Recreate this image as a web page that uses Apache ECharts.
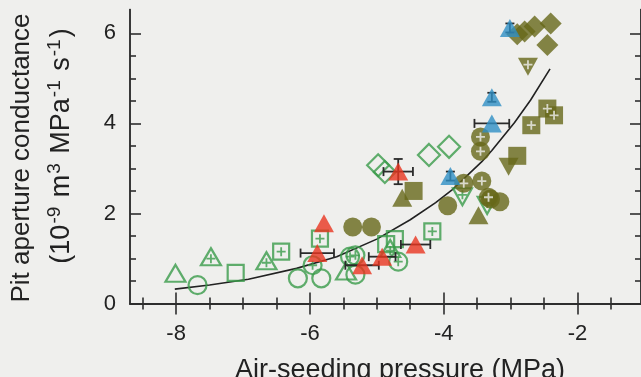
<!DOCTYPE html>
<html>
<head>
<meta charset="utf-8">
<script src="https://cdn.jsdelivr.net/npm/echarts@6/dist/echarts.min.js"></script>
<style>
  html, body { margin: 0; padding: 0; background: #efefed; }
  #main { width: 641px; height: 377px; }
</style>
</head>
<body>
<div id="main"></div>
<script>
var chart = echarts.init(document.getElementById("main"));

// axis ticks
var x_major = [-8, -6, -4, -2];
var x_minor = [-8.5, -7.5, -7, -6.5, -5.5, -5, -4.5, -3.5, -3, -2.5, -1.5];
var y_major = [0, 2, 4, 6];
var y_minor = [0.5, 1, 1.5, 2.5, 3, 3.5, 4.5, 5, 5.5];

// green open markers
var g_triangle = [[-8.01, 0.67], [-5.46, 0.72]];
var g_circle = [[-7.68, 0.41], [-6.18, 0.56], [-5.83, 0.56], [-5.32, 0.64]];
var g_square = [[-7.11, 0.68], [-4.73, 1.43], [-4.86, 1.32]];
var g_diamond = [[-4.98, 3.07], [-4.88, 2.92], [-4.22, 3.30], [-3.92, 3.48]];
var g_tri_plus = [[-7.48, 1.04], [-6.65, 0.95], [-4.8, 1.22]];
var g_sq_plus = [[-6.43, 1.15], [-5.85, 1.44], [-4.17, 1.60]];
var g_circ_plus = [[-5.96, 0.85], [-5.4, 1.04], [-5.32, 1.07], [-4.68, 0.93]];
var g_inv_tri = [[-3.72, 2.37], [-3.35, 2.18]];

// olive filled markers
var o_circle = [[-5.36, 1.70], [-5.08, 1.70], [-3.94, 2.17], [-3.16, 2.26], [-3.3, 2.32]];
var o_circ_plus = [[-3.45, 3.70], [-3.45, 3.38], [-3.70, 2.67], [-3.43, 2.72], [-3.33, 2.36]];
var o_diamond = [[-2.9, 5.98], [-2.79, 6.04], [-2.64, 6.15], [-2.40, 6.22], [-2.45, 5.74]];
var o_square = [[-4.45, 2.50], [-2.90, 3.28]];
var o_triangle = [[-4.62, 2.35], [-3.48, 1.96]];
var o_inv_tri = [[-3.03, 3.04]];
var o_inv_tri_plus = [[-2.74, 5.26]];
var o_sq_plus = [[-2.69, 3.96], [-2.45, 4.33], [-2.35, 4.18]];

// triangles with error bars: [x, y, x error, y error]
var red_tri = [[-5.79, 1.78, 0, 0], [-5.89, 1.12, 0.25, 0], [-5.22, 0.85, 0.25, 0],
               [-4.92, 1.04, 0.2, 0], [-4.42, 1.31, 0.22, 0], [-4.68, 2.93, 0.22, 0.28]];
var blue_tri = [[-3.90, 2.83, 0, 0.1], [-3.28, 4.00, 0.26, 0], [-3.28, 4.58, 0, 0.1], [-3.01, 6.12, 0, 0.1]];

// fitted curve
var fit_curve = [[-8.02, 0.32], [-7.5, 0.41], [-6.92, 0.54], [-6.2, 0.78], [-5.6, 1.04], [-5.0, 1.43],
                 [-4.5, 1.86], [-4.12, 2.24], [-3.87, 2.53], [-3.43, 3.15], [-3.28, 3.40],
                 [-2.94, 4.02], [-2.7, 4.52], [-2.41, 5.21]];

var green = '#3a9b4a';
var olive = '#666819';
var red = '#e8351f';
var blue = '#2e8ec4';
var bg = '#efefed';
var axis_color = '#2e2e2e';
var text_color = '#222222';
var font = 'Liberation Sans';
var plus_path = 'path://M4,0h2v4h4v2h-4v4h-2v-4h-4v-2h4z';
var inv_tri_path = 'path://M0,0L10,0L5,9Z';

function open_series(data, symbol, size) {
    return {
        type: 'scatter', data: data, symbol: symbol, symbolSize: size, z: 2,
        itemStyle: { color: 'rgba(0,0,0,0)', borderColor: green, borderWidth: 2.2 }
    };
}
function filled_series(data, symbol, size, color, z) {
    return {
        type: 'scatter', data: data, symbol: symbol, symbolSize: size, z: z || 3,
        itemStyle: { color: color }
    };
}
function plus_series(data, color, offset, z) {
    return {
        type: 'scatter', data: data, symbol: plus_path, symbolSize: 9, z: z,
        symbolOffset: offset || [0, 0],
        itemStyle: { color: color }
    };
}

function tick_axis(pos, min, max, ticks, len, label) {
    return {
        type: 'value', position: pos, min: min, max: max,
        axisLine: { show: true, lineStyle: { color: axis_color, width: 1.5 } },
        axisTick: { show: true, inside: true, length: len, customValues: ticks,
                    lineStyle: { color: axis_color, width: 1.6 } },
        axisLabel: label ? label : { show: false },
        splitLine: { show: false }
    };
}

var x_min = -8.69, x_max = -1.05, y_min = 0, y_max = 6.53;

var option = {
    backgroundColor: bg,
    animation: false,
    grid: { left: 130, top: 9.5, width: 518, height: 294 },
    xAxis: [
        tick_axis('bottom', x_min, x_max, x_major, 11, {
            show: true, customValues: x_major, fontSize: 22, fontFamily: font, color: text_color, margin: 19
        }),
        tick_axis('bottom', x_min, x_max, x_minor, 6),
        tick_axis('top', x_min, x_max, x_major, 11),
        tick_axis('top', x_min, x_max, x_minor, 6)
    ],
    yAxis: [
        tick_axis('left', y_min, y_max, y_major, 11, {
            show: true, customValues: y_major, fontSize: 22, fontFamily: font, color: text_color, margin: 14
        }),
        tick_axis('left', y_min, y_max, y_minor, 6),
        tick_axis('right', y_min, y_max, y_major, 11),
        tick_axis('right', y_min, y_max, y_minor, 6)
    ],
    graphic: [
        {
            type: 'text', x: 400, y: 371, z: 10,
            style: { text: 'Air-seeding pressure (MPa)', fontSize: 27, fontFamily: font,
                     fill: text_color, align: 'center', verticalAlign: 'middle' }
        },
        {
            type: 'text', x: 22, y: 158, rotation: Math.PI / 2, z: 10,
            style: { text: 'Pit aperture conductance', fontSize: 26, fontFamily: font,
                     fill: text_color, align: 'center', verticalAlign: 'middle' }
        },
        {
            type: 'text', x: 62, y: 146, rotation: Math.PI / 2, z: 10,
            style: {
                text: '{p|(10}{s|-9}{p| m}{s|3}{p| MPa}{s|-1}{p| s}{s|-1}{p|)}',
                align: 'center', verticalAlign: 'middle',
                rich: {
                    p: { fontSize: 27, fontFamily: font, fill: text_color },
                    s: { fontSize: 19, fontFamily: font, fill: text_color, padding: [0, 2, 15, 1] }
                }
            }
        }
    ],
    series: [
        {
            type: 'line', data: fit_curve, smooth: false, showSymbol: false, z: 1,
            lineStyle: { color: '#222222', width: 1.6 }
        },
        open_series(g_triangle, 'triangle', [20, 17]),
        open_series(g_circle, 'circle', 18),
        open_series(g_square, 'rect', 16),
        open_series(g_diamond, 'diamond', [22, 22]),
        open_series(g_tri_plus, 'triangle', [20, 17]),
        plus_series(g_tri_plus, green, [0, 2], 2),
        open_series(g_sq_plus, 'rect', 16),
        plus_series(g_sq_plus, green, [0, 0], 2),
        open_series(g_circ_plus, 'circle', 18),
        plus_series(g_circ_plus, green, [0, 0], 2),
        open_series(g_inv_tri, inv_tri_path, [19, 17]),
        plus_series(g_inv_tri, green, [0, -2], 2),
        filled_series(o_circle, 'circle', 19, olive),
        filled_series(o_circ_plus, 'circle', 19, olive),
        plus_series(o_circ_plus, bg, [0, 0], 4),
        filled_series(o_diamond, 'diamond', [22, 22], olive),
        filled_series(o_square, 'rect', 18, olive),
        filled_series(o_triangle, 'triangle', [20, 18], olive),
        filled_series(o_inv_tri, inv_tri_path, [20, 18], olive),
        filled_series(o_inv_tri_plus, inv_tri_path, [20, 18], olive),
        plus_series(o_inv_tri_plus, bg, [0, -2], 4),
        filled_series(o_sq_plus, 'rect', 18, olive),
        plus_series(o_sq_plus, bg, [0, 0], 4),
        {
            type: 'custom', z: 5,
            data: red_tri.concat(blue_tri),
            renderItem: function (params, api) {
                var x = api.value(0), y = api.value(1), ex = api.value(2), ey = api.value(3);
                var st = { stroke: '#2a2a2a', lineWidth: 1.8 };
                var kids = [];
                var cap = 4.5;
                if (ex > 0) {
                    var a = api.coord([x - ex, y]), b = api.coord([x + ex, y]);
                    kids.push({ type: 'line', shape: { x1: a[0], y1: a[1], x2: b[0], y2: b[1] }, style: st });
                    kids.push({ type: 'line', shape: { x1: a[0], y1: a[1] - cap, x2: a[0], y2: a[1] + cap }, style: st });
                    kids.push({ type: 'line', shape: { x1: b[0], y1: b[1] - cap, x2: b[0], y2: b[1] + cap }, style: st });
                }
                if (ey > 0) {
                    var c = api.coord([x, y - ey]), d = api.coord([x, y + ey]);
                    kids.push({ type: 'line', shape: { x1: c[0], y1: c[1], x2: d[0], y2: d[1] }, style: st });
                    kids.push({ type: 'line', shape: { x1: c[0] - cap, y1: c[1], x2: c[0] + cap, y2: c[1] }, style: st });
                    kids.push({ type: 'line', shape: { x1: d[0] - cap, y1: d[1], x2: d[0] + cap, y2: d[1] }, style: st });
                }
                return { type: 'group', children: kids };
            }
        },
        filled_series(red_tri, 'triangle', [20, 18], red, 6),
        filled_series(blue_tri, 'triangle', [20, 18], blue, 6)
    ]
};
chart.setOption(option);
</script>
</body>
</html>
